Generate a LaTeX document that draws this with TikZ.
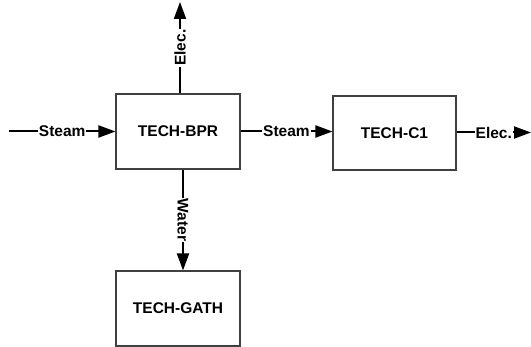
\documentclass[tikz,border=0pt]{standalone}
\usepackage{fontspec}
\setmainfont{Liberation Sans}
\usetikzlibrary{arrows.meta}
\begin{document}
\begin{tikzpicture}[x=1pt,y=-1pt,
  box/.style={draw=black!75,line width=1.1pt,minimum width=124pt,minimum height=75pt,inner sep=0pt,font=\bfseries\fontsize{15.5}{17}\selectfont},
  flow/.style={line width=2pt,-{Triangle[length=17pt,width=12pt]}},
  lab/.style={fill=white,inner sep=1pt,font=\bfseries\fontsize{15.5}{17}\selectfont}]
\useasboundingbox (0,0) rectangle (531,347);
\node[box] (bpr) at (178,131.5) {TECH-BPR};
\node[box,minimum width=123pt,minimum height=74pt] (c1) at (394.5,133) {TECH-C1};
\node[box] (gath) at (178,308.5) {TECH-GATH};
\coordinate (inL) at (9,131.5);
\coordinate (outR) at (531,132.5);
\coordinate (outT) at (180,2);
\draw[flow] (inL) -- node[lab] {Steam} (bpr.west);
\draw[flow] (bpr.east) -- node[lab] {Steam} (bpr.east -| c1.west);
\draw[flow] (c1.east |- outR) -- node[lab] {Elec.} (outR);
\draw[flow] (outT |- bpr.north) -- node[lab,rotate=90] {Elec.} (outT);
\draw[flow] ([xshift=5pt]bpr.south) -- node[lab,rotate=-90] {Water} ([xshift=5pt]gath.north);
\end{tikzpicture}
\end{document}
